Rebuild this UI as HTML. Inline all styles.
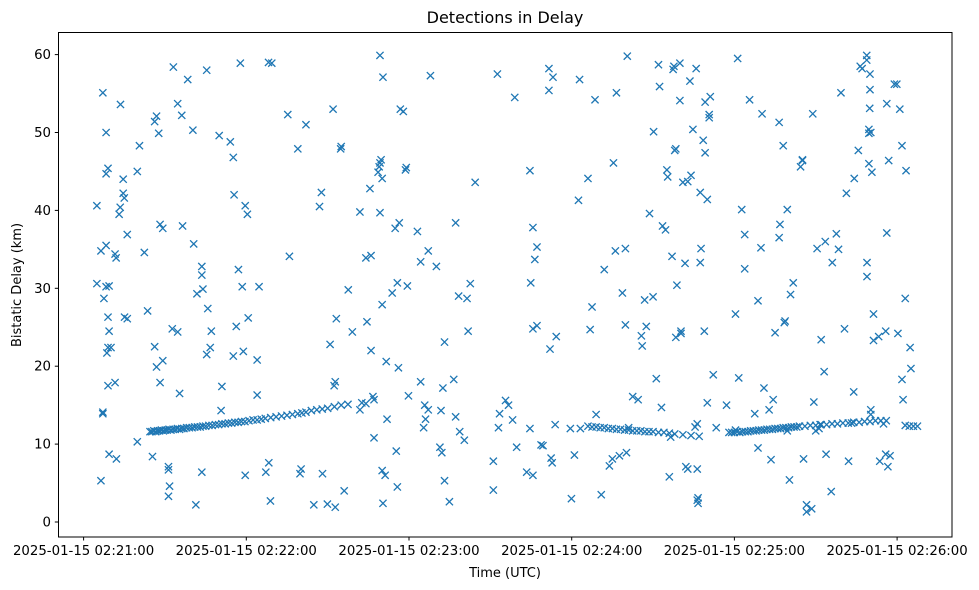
<!DOCTYPE html>
<html><head><meta charset="utf-8"><style>
body{margin:0;background:#fff;}
svg{display:block;font-family:"DejaVu Sans","Liberation Sans",sans-serif;}
</style></head><body>
<svg id="chart" width="979" height="590" viewBox="0 0 979 590" xmlns="http://www.w3.org/2000/svg">
<rect width="979" height="590" fill="#fff"/>
<text x="505" y="23" font-size="16" text-anchor="middle">Detections in Delay</text>
<g id="marks"></g>
<rect x="58.5" y="32.5" width="893.5" height="504.5" fill="none" stroke="#000" stroke-width="1"/>
<g id="xaxis"></g>
<g id="yaxis"></g>
<text x="505" y="577" font-size="13" text-anchor="middle">Time (UTC)</text>
<text transform="translate(21,285) rotate(-90)" font-size="13" text-anchor="middle">Bistatic Delay (km)</text>
</svg>
<script>
// seconds after 2025-01-15 02:21:00
const times = [
24.5,25.2,25.9,26.6,27.3,28,28.7,29.4,30.1,30.8,31.5,32.2,33,33.8,34.6,35.4,36.2,37,38,39,40,41,42,43,44,45,46.2,47.4,48.6,49.8,51,52.2,53.4,54.6,55.8,57,58.2,59.5,61,62.5,64,65.5,67,69,71,73,75,77,79,80.5,82,84,86,88,90,92.5,95,97.5,
186,187.5,189,190.5,192,193.5,195,196.5,198,199.5,201,202.5,204,205.5,207,208.5,210,212,214,216,218,221,224,227,
238,239,240,241,242,243,244,245,246,247,248,249,250,251,252,253,254,255,256,257,258,259,260,261,262,263,264,266,268,270,272,274,276,278,280,282,284,286,288,290,292,294,296,303,304.5,306,307.5,
4.9,4.9,7.1,6.4,8.3,7.1,7.1,6.4,7.5,8.3,9.4,8.3,8.3,9.0,9.0,9.4,9.0,8.6,10.1,11.6,9.0,9.4,12.1,11.6,12.0,13.1,13.5,15.0,14.6,13.6,14.6,15.1,16.1,16.1,19.8,20.6,19.8,22.4,23.6,26.2,25.4,26.2,26.9,27.7,28.2,29.2,26.9,28.2,29.2,31.3,31.3,31.7,31.3,33.1,32.7,34.7,35.4,36.2,36.5,34.7,38.4,40.3,41.4,41.8,40.6,43.6,43.6,43.6,44.0,45.4,45.4,45.8,46.7,47.1,50.0,50.7,51.0,54.1,55.2,55.5,56.3,55.2,57.1,57.8,58.5,58.9,59.6,59.6,60.4,60.7,64.0,64.7,64.0,67.2,68.3,69.4,68.2,68.9,75.3,75.9,79.0,80.2,79.8,82.0,84.9,87.0,87.7,88.1,89.9,90.9,92.4,92.8,92.8,92.0,93.2,94.8,95.0,96.1,97.6,99.1,101.9,102.6,101.9,104.1,104.1,104.5,105.6,106.0,106.7,107.1,106.0,107.1,108.6,109.3,109.0,110.1,110.1,109.3,109.3,109.7,110.4,110.1,111.2,110.4,111.6,111.9,113.8,114.9,115.7,116.1,115.3,115.7,116.4,116.8,117.9,119.0,118.7,119.4,119.8,123.1,124.3,124.3,125.4,126.1,125.8,127.1,127.1,127.9,130.1,131.4,131.8,132.1,132.5,133.1,133.1,134.9,136.5,137.2,137.2,138.3,138.7,140.4,141.4,141.8,142.6,144.4,151.1,151.1,152.6,153.0,153.4,155.6,156.7,158.2,159.0,159.7,163.4,164.6,164.6,164.9,165.7,165.7,166.4,165.7,167.2,167.2,168.7,169.4,171.6,172.4,171.6,172.0,172.8,173.1,173.9,174.3,179.5,179.9,181.0,182.9,183.2,182.5,186.0,186.8,187.5,188.6,189.0,190.9,192.0,193.9,195.0,195.4,196.1,196.5,197.6,198.7,199.8,199.8,200.2,200.5,201.0,202.5,204.5,206.0,205.7,206.9,207.5,208.7,210.0,210.2,211.2,212.0,212.4,213.1,213.5,214.6,215.1,215.4,216.5,216.0,217.0,217.4,217.7,218.4,218.0,218.4,218.8,219.9,220.3,220.3,219.9,221.8,221.0,222.1,222.8,222.8,223.6,224.0,224.7,225.5,226.3,225.9,226.6,226.3,226.6,226.3,227.4,227.4,227.7,228.5,229.2,228.9,230.0,230.7,230.0,231.1,229.2,230.7,232.2,233.3,237.1,240.4,240.4,241.2,241.6,243.8,242.7,243.8,245.6,247.5,248.7,248.7,249.8,250.2,250.9,252.8,253.5,254.3,255.0,256.5,256.8,256.5,258.0,258.4,258.7,259.5,259.5,260.3,260.7,261.7,264.4,265.1,265.5,265.1,266.6,266.6,268.5,268.9,269.3,270.0,270.5,271.2,271.6,272.0,273.1,273.5,273.8,275.7,276.1,277.6,278.4,279.3,280.6,281.3,282.1,283.2,284.0,284.2,285.7,286.4,287.1,288.9,289.6,288.9,289.6,288.8,288.8,289.9,290.7,290.3,290.3,289.6,290.3,290.0,290.0,291.3,291.3,293.2,293.6,295.0,295.8,295.8,296.2,296.9,296.2,297.4,296.6,299.0,299.9,300.3,301.0,301.8,301.8,302.2,303.0,303.3,304.8,305.1
];
const delays = [
11.6,11.6,11.7,11.6,11.7,11.7,11.8,11.7,11.8,11.8,11.9,11.8,11.9,11.9,12.0,11.9,12.0,12.0,12.1,12.1,12.1,12.2,12.2,12.2,12.3,12.3,12.4,12.4,12.5,12.5,12.6,12.6,12.7,12.7,12.8,12.8,12.9,12.9,13.0,13.1,13.1,13.2,13.3,13.4,13.5,13.6,13.7,13.8,13.9,14.0,14.1,14.3,14.4,14.5,14.6,14.8,15.0,15.1,
12.3,12.2,12.2,12.1,12.1,12.0,12.0,11.9,11.9,11.8,11.8,11.7,11.7,11.7,11.6,11.6,11.6,11.5,11.5,11.4,11.3,11.2,11.1,11.0,
11.5,11.5,11.5,11.6,11.5,11.6,11.6,11.6,11.7,11.7,11.7,11.8,11.8,11.8,11.9,11.9,11.9,12.0,12.0,12.0,12.1,12.1,12.1,12.2,12.2,12.2,12.3,12.3,12.4,12.4,12.5,12.5,12.6,12.6,12.7,12.7,12.8,12.8,12.9,12.9,13.0,13.0,13.0,12.4,12.3,12.3,12.3,
40.6,30.6,55.1,34.8,35.5,13.9,14.1,5.3,28.7,30.2,30.3,50.0,44.7,45.4,26.3,24.5,22.4,21.7,22.4,17.9,17.5,8.7,8.1,34.4,33.9,39.5,40.4,41.6,42.2,53.6,44.0,26.3,26.1,36.9,10.3,48.3,45.0,34.6,27.1,22.5,8.4,51.4,52.1,49.9,38.2,37.7,19.9,17.9,20.7,6.7,3.3,4.6,7.1,58.4,24.8,24.4,16.5,52.2,38.0,53.7,56.8,50.3,2.2,29.3,35.7,32.8,31.7,6.4,29.9,21.5,58.0,27.4,22.4,24.5,49.6,14.3,17.4,48.8,21.3,42.0,25.1,46.8,32.4,58.9,30.2,21.9,6.0,40.6,39.5,26.2,20.8,30.2,16.3,6.4,7.6,58.9,59.0,2.7,52.3,34.1,47.9,6.8,6.2,51.0,2.2,40.5,42.3,6.2,2.3,22.8,17.5,18.0,1.9,53.0,26.1,47.9,48.2,4.0,29.8,24.4,14.4,15.3,39.8,33.9,15.2,25.7,42.8,22.0,16.1,15.7,34.2,10.8,44.9,46.1,45.6,27.9,6.6,59.9,39.7,46.5,57.1,44.1,6.0,2.4,20.6,13.2,29.4,37.7,30.7,19.8,9.1,4.5,38.4,53.0,52.7,45.5,45.2,30.3,16.2,37.3,33.4,18.0,12.1,13.2,15.0,34.8,14.4,57.3,32.8,9.6,14.3,8.9,17.2,23.1,5.3,2.6,18.3,13.5,38.4,29.0,11.6,10.5,28.7,24.5,30.6,43.6,7.8,4.1,57.5,12.1,13.9,15.6,15.0,13.1,54.5,9.6,6.4,45.1,12.0,30.7,24.8,6.0,33.7,37.8,25.2,35.3,9.9,9.8,58.2,8.2,55.4,22.2,7.6,57.1,12.5,23.8,12.0,3.0,8.6,56.8,12.0,41.3,44.1,24.7,27.6,54.2,13.8,3.5,32.4,7.2,8.1,46.1,34.8,55.1,8.5,29.4,25.3,35.1,8.9,59.8,12.1,16.1,15.7,22.6,23.9,28.5,25.1,39.6,28.9,50.1,18.4,58.7,55.9,14.7,38.0,37.5,45.2,44.3,10.9,5.8,34.1,58.1,58.5,47.9,47.7,23.7,30.4,58.9,24.2,24.5,54.1,33.2,43.6,7.1,6.8,43.7,56.6,44.5,50.4,12.2,6.8,58.2,3.1,2.8,2.4,12.6,33.3,42.3,35.1,49.0,47.4,24.5,41.4,52.3,15.3,54.6,53.9,51.9,18.9,12.1,15.0,11.8,26.7,59.5,18.5,36.9,40.1,32.5,54.2,13.9,9.5,28.4,35.2,52.4,17.2,14.4,8.0,15.7,24.3,36.5,38.2,51.3,48.3,25.6,25.8,40.1,11.7,5.4,29.2,30.7,45.6,46.5,8.1,46.4,2.2,1.3,1.7,52.4,15.4,11.7,35.1,12.0,12.5,23.4,19.3,36.0,8.7,3.9,33.3,37.0,35.0,55.1,24.8,42.2,7.8,12.7,16.7,44.1,47.7,58.5,58.2,33.3,46.0,31.5,49.9,59.3,59.9,53.1,44.9,14.4,13.8,50.4,50.0,55.5,57.5,23.3,26.7,23.8,7.8,12.6,8.7,24.5,53.7,46.4,37.1,8.5,7.1,56.2,56.2,24.2,53.0,48.3,18.3,15.7,28.7,45.1,22.4,19.7,9.5,12.3,12.2,21.1,12.2
];
const yTicks = [0,10,20,30,40,50,60];
const xTickSecs = [0,60,120,180,240,300];
const xTickLabels = ["2025-01-15 02:21:00","2025-01-15 02:22:00","2025-01-15 02:23:00","2025-01-15 02:24:00","2025-01-15 02:25:00","2025-01-15 02:26:00"];

const NS = "http://www.w3.org/2000/svg";
function xScale(s){ return 83.6 + s * (162.7/60); }
function yScale(d){ return 522 - d * 7.79; }
function mk(tag, attrs){ const e=document.createElementNS(NS,tag); for(const k in attrs) e.setAttribute(k,attrs[k]); return e; }

const marks = document.getElementById('marks');
const n = Math.min(times.length, delays.length);
for(let i=0;i<n;i++){
  const cx = xScale(times[i]), cy = yScale(delays[i]), r = 3.6;
  const p = mk('path',{d:`M${cx-r},${cy-r}L${cx+r},${cy+r}M${cx-r},${cy+r}L${cx+r},${cy-r}`, stroke:'#1f77b4','stroke-width':1.3, fill:'none'});
  
  
  marks.appendChild(p);
}
const xa = document.getElementById('xaxis');
xTickSecs.forEach((s,i)=>{
  const x = xScale(s);
  const t = mk('line',{x1:x,x2:x,y1:537,y2:540.5,stroke:'#000','stroke-width':1});
  
  
  xa.appendChild(t);
  const l = mk('text',{x:x,y:555,'font-size':13.3,'text-anchor':'middle'});
  l.textContent = xTickLabels[i];
  
  
  xa.appendChild(l);
});
const ya = document.getElementById('yaxis');
yTicks.forEach(v=>{
  const y = yScale(v);
  const t = mk('line',{x1:54.8,x2:58.5,y1:y,y2:y,stroke:'#000','stroke-width':1});
  
  
  ya.appendChild(t);
  const l = mk('text',{x:51,y:y+4.5,'font-size':13.3,'text-anchor':'end'});
  l.textContent = v;
  
  
  ya.appendChild(l);
});
</script>
</body></html>
